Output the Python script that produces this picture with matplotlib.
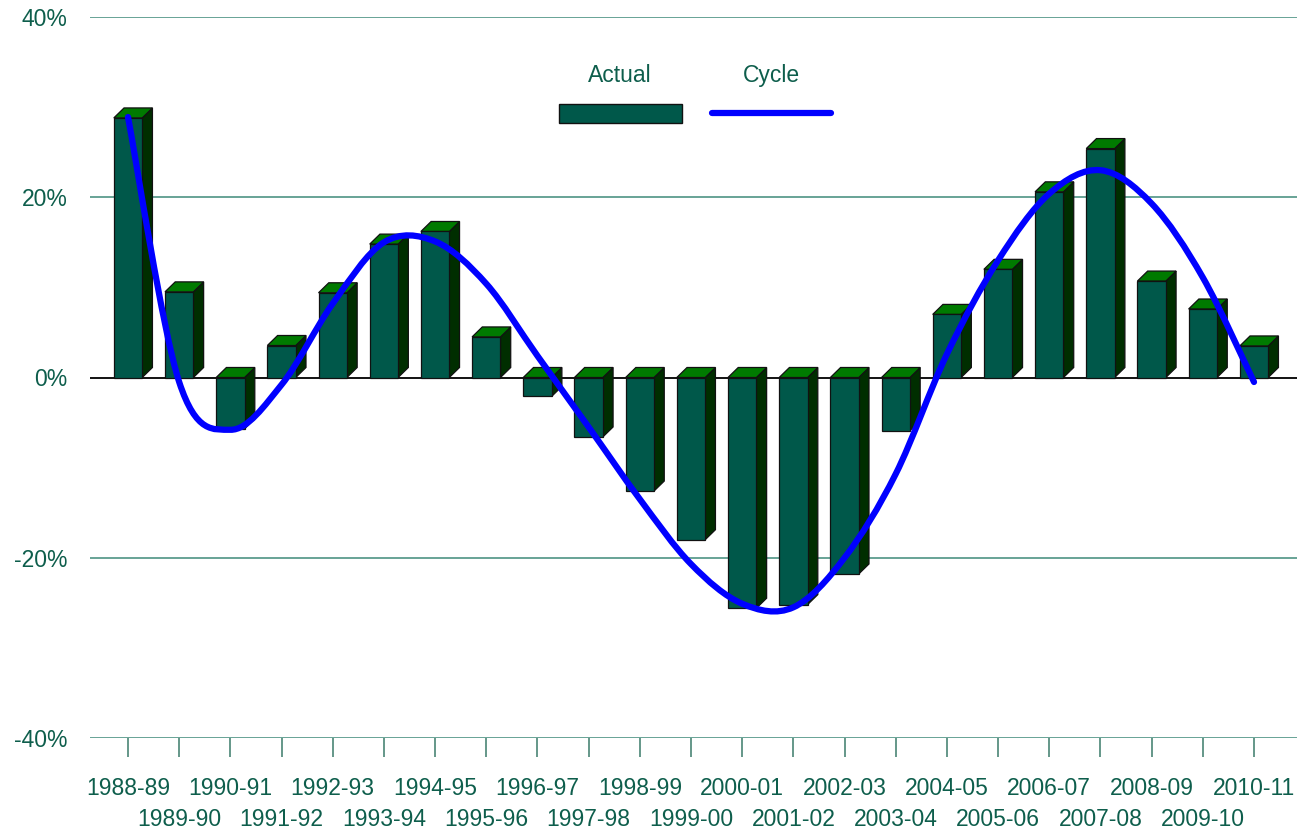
import matplotlib
matplotlib.use("Agg")
import matplotlib.pyplot as plt
from matplotlib.patches import Polygon, Rectangle, PathPatch
from matplotlib.path import Path
from matplotlib.lines import Line2D
import numpy as np

plt.rcParams['font.family'] = ['Liberation Sans', 'DejaVu Sans']

# ---------------- data ----------------
years = ["1988-89", "1989-90", "1990-91", "1991-92", "1992-93", "1993-94",
         "1994-95", "1995-96", "1996-97", "1997-98", "1998-99", "1999-00",
         "2000-01", "2001-02", "2002-03", "2003-04", "2004-05", "2005-06",
         "2006-07", "2007-08", "2008-09", "2009-10", "2010-11"]
actual = [28.8, 9.5, -5.7, 3.55, 9.4, 14.8, 16.2, 4.5, -2.1, -6.6, -12.6, -18.0,
          -25.6, -25.2, -21.8, -5.9, 7.0, 12.0, 20.6, 25.4, 10.7, 7.6, 3.5]
cycle = [28.9, -0.5, -5.8, -0.8, 8.2, 15.0, 15.1, 10.4, 2.4, -5.5, -13.5, -20.7,
         -25.1, -25.5, -20.0, -10.7, 2.6, 13.0, 20.4, 23.0, 19.3, 11.1, -0.5]
yticks = [-40, -20, 0, 20, 40]

# ---------------- style ----------------
W, H = 1297, 831
TXT = '#0E5E4C'
FRONT = '#00584A'
TOP = '#007A00'
SIDE = '#002E00'
EDGE = '#111111'
GRID = '#4E9484'
TICKC = '#3A7A6A'
BLUE = '#0000FF'
FS = 16.5

fig = plt.figure(figsize=(W / 100, H / 100), dpi=100)
ax = fig.add_axes([90 / W, 1 - 738 / H, (W - 90) / W, (738 - 17) / H])
ax.set_xlim(-0.7425, 22.84)
ax.set_ylim(-40, 40)
for s in ax.spines.values():
    s.set_visible(False)

# gridlines
for v in yticks:
    if v == 0:
        ax.axhline(v, color='black', lw=1.3, zorder=1)
    else:
        ax.axhline(v, color=GRID, lw=1.2, zorder=0)

# 3D bars
x = np.arange(len(years))
bw = 0.555
dx = 0.2     # depth offset in category units
dy = 1.11    # depth offset in % units
for i, v in enumerate(actual):
    x0, x1 = x[i] - bw / 2, x[i] + bw / 2
    top = max(v, 0)
    bot = min(v, 0)
    z = 2 + i * 0.01
    side = Polygon([(x1, bot), (x1 + dx, bot + dy), (x1 + dx, top + dy), (x1, top)],
                   closed=True, facecolor=SIDE, edgecolor=EDGE, lw=0.9, zorder=z)
    ax.add_patch(side)
    tp = Polygon([(x0, top), (x1, top), (x1 + dx, top + dy), (x0 + dx, top + dy)],
                 closed=True, facecolor=TOP, edgecolor=EDGE, lw=0.9, zorder=z)
    ax.add_patch(tp)
ax.bar(x, actual, width=bw, color=FRONT, edgecolor=EDGE, lw=0.9, zorder=2.5)

# smoothed cycle line (Bezier through the data points)
pts = np.column_stack([x, cycle]).astype(float)
n = len(pts)
verts = [pts[0]]
codes = [Path.MOVETO]
for i in range(n - 1):
    p0 = pts[i - 1] if i > 0 else pts[i]
    p1 = pts[i]
    p2 = pts[i + 1]
    p3 = pts[i + 2] if i + 2 < n else pts[i + 1]
    c1 = p1 + (p2 - p0) / 6
    c2 = p2 - (p3 - p1) / 6
    verts += [c1, c2, p2]
    codes += [Path.CURVE4] * 3
ax.add_patch(PathPatch(Path(verts, codes), facecolor='none', edgecolor=BLUE,
                       lw=4.5, capstyle='round', joinstyle='round', zorder=5))

# ticks
ax.set_yticks(yticks)
ax.set_yticklabels([f"{v}%" for v in yticks])
ax.tick_params(axis='y', length=0, pad=16, labelsize=FS, labelcolor=TXT)
ax.set_xticks(x[::2])
ax.set_xticklabels(years[::2])
ax.set_xticks(x[1::2], minor=True)
ax.set_xticklabels(years[1::2], minor=True)
ax.tick_params(axis='x', which='major', length=13.7, width=1.1, color=TICKC,
               pad=14.5, labelsize=FS, labelcolor=TXT)
ax.tick_params(axis='x', which='minor', length=13.7, width=1.1, color=TICKC,
               pad=37, labelsize=FS, labelcolor=TXT)

# legend (manual, text above the keys)
fig.text(620 / W, 1 - 82 / H, 'Actual', ha='center', va='baseline', fontsize=FS, color=TXT)
fig.text(771 / W, 1 - 82 / H, 'Cycle', ha='center', va='baseline', fontsize=FS, color=TXT)
fig.patches.append(Rectangle((559 / W, 1 - 123 / H), 123 / W, 19 / H,
                             transform=fig.transFigure, facecolor=FRONT,
                             edgecolor=EDGE, lw=1))
fig.lines.append(Line2D([712 / W, 831 / W], [1 - 113 / H, 1 - 113 / H],
                        transform=fig.transFigure, color=BLUE, lw=4.5,
                        solid_capstyle='round'))

fig.savefig('out.png', dpi=100)
